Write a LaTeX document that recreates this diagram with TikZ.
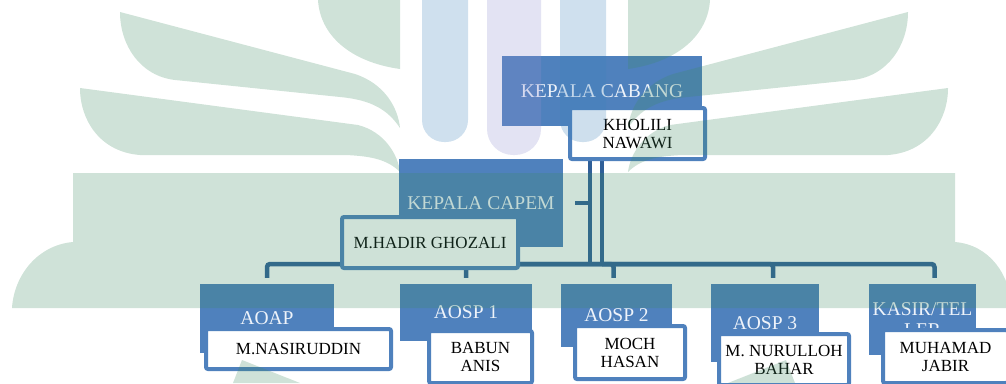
\documentclass[tikz,border=0pt]{standalone}
\usepackage{fontspec}
\setmainfont{Liberation Serif}
\usetikzlibrary{backgrounds}

\definecolor{rolefill}{HTML}{4F81BD}
\definecolor{roletext}{HTML}{EEF3FA}
\definecolor{linkcol}{HTML}{2F5F98}
\definecolor{leaf}{HTML}{3F8B63}
\definecolor{pillblue}{HTML}{3F83BB}
\definecolor{pilllav}{HTML}{8F8FCF}

\begin{document}
\begin{tikzpicture}[
			x=1pt, y=-1pt,
			nodes = {
				align = center,
				inner sep = 0pt
			},
			role/.style={
				rectangle,
				fill=rolefill,
				text=roletext,
				font=\fontsize{19.5}{21}\selectfont
			},
			holder/.style={
				rectangle,
				draw=rolefill,
				line width=4pt,
				rounded corners=2pt,
				fill=white,
				text=black,
				font=\fontsize{17}{18}\selectfont
			},
			lines/.style={
				draw=linkcol,
				line width=4.5pt,
				rounded corners=3pt
			}
		]
			\useasboundingbox (0,0) rectangle (1006,383);
			\clip (0,0) rectangle (1006,383);

			\node[role, minimum width=200pt, minimum height=70pt] (cabang) at (602,91) {KEPALA CABANG};
			\node[holder, minimum width=135pt, minimum height=51pt] (kholili) at (637.5,133.5) {KHOLILI\\NAWAWI};

			\node[role, minimum width=164pt, minimum height=88pt] (capem) at (481,203) {KEPALA CAPEM};
			\node[holder, minimum width=176pt, minimum height=51pt] (hadir) at (430,242.5) {M.HADIR GHOZALI};

			\node[role, minimum width=134pt, minimum height=69pt] (aoap) at (267,318.5) {AOAP};
			\node[holder, minimum width=185pt, minimum height=40pt] (nasir) at (298.5,349) {M.NASIRUDDIN};

			\node[role, minimum width=132pt, minimum height=57pt] (aosp1) at (466,312.5) {AOSP 1};
			\node[holder, minimum width=103pt, minimum height=52pt] (babun) at (480.5,357) {BABUN\\ANIS};

			\node[role, minimum width=111pt, minimum height=63pt] (aosp2) at (616.5,315.5) {AOSP 2};
			\node[holder, minimum width=110pt, minimum height=53pt] (moch) at (630,352.5) {MOCH\\HASAN};

			\node[role, minimum width=108pt, minimum height=78pt] (aosp3) at (765,323) {AOSP 3};
			\node[holder, minimum width=130pt, minimum height=51pt] (nurul) at (784,359.5) {M. NURULLOH\\BAHAR};

			\node[role, minimum width=107pt, minimum height=71pt] (kasir) at (922.5,319.5) {KASIR/TEL\\LER};
			\node[holder, minimum width=125pt, minimum height=53pt] (jabir) at (945.5,356.5) {MUHAMAD\\JABIR};

			\coordinate (bus) at (602,264);

			\begin{scope}[on background layer]
				\draw[lines] (cabang.south) -- (cabang.south |- bus);
				\draw[lines] ([xshift=-12pt]cabang.south) -- ([xshift=-12pt]cabang.south |- bus);
				\draw[lines] ([xshift=-12pt]cabang.south |- capem.east) -- ([xshift=12pt]capem.east);

				\draw[lines, shorten >=6pt] (bus) -| (aoap.north);
				\draw[lines, shorten >=6pt] (bus) -| (aosp1.north);
				\draw[lines, shorten >=6pt] (bus) -| ([xshift=-3pt]aosp2.north);
				\draw[lines, shorten >=6pt] (bus) -| ([xshift=8pt]aosp3.north);
				\draw[lines, shorten >=6pt] (bus) -| ([xshift=12pt]kasir.north);
			\end{scope}

			% faint logo over the chart
			\begin{scope}[fill opacity=0.25]
				\fill[leaf] (120,12) -- (355,74) .. controls (385,84) and (398,108) .. (400,128)
					.. controls (388,110) and (372,100) .. (340,97) -- (175,80)
					.. controls (140,76) and (120,45) .. cycle;
				\fill[leaf] (80,88) -- (358,125) .. controls (385,132) and (398,155) .. (400,172)
					.. controls (388,160) and (372,156) .. (345,155) -- (140,155)
					.. controls (100,152) and (80,120) .. cycle;
				\fill[leaf] (318,0) -- (400,0) -- (400,69) .. controls (350,62) and (320,35) .. cycle;

				\fill[leaf] (908,12) -- (673,74) .. controls (643,84) and (630,108) .. (628,128)
					.. controls (640,110) and (656,100) .. (688,97) -- (853,80)
					.. controls (888,76) and (908,45) .. cycle;
				\fill[leaf] (948,88) -- (670,125) .. controls (643,132) and (630,155) .. (628,172)
					.. controls (640,160) and (656,156) .. (683,155) -- (888,155)
					.. controls (928,152) and (948,120) .. cycle;
				\fill[leaf] (710,0) -- (628,0) -- (628,69) .. controls (678,62) and (708,35) .. cycle;

				\fill[leaf] (73,173) -- (955,173) -- (955,242) .. controls (990,245) and (1010,275) .. (1012,308)
					-- (12,308) .. controls (14,275) and (38,245) .. (73,242) -- cycle;

				\fill[leaf] (233,383) -- (242,360) -- (300,383) -- cycle;
				\fill[leaf] (795,383) -- (786,360) -- (728,383) -- cycle;

				\fill[pillblue, rounded corners=22pt] (422,-40) rectangle (468,142);
				\fill[pilllav, rounded corners=26pt] (487,-40) rectangle (541,155);
				\fill[pillblue, rounded corners=22pt] (560,-40) rectangle (606,142);
			\end{scope}

		\end{tikzpicture}
\end{document}
